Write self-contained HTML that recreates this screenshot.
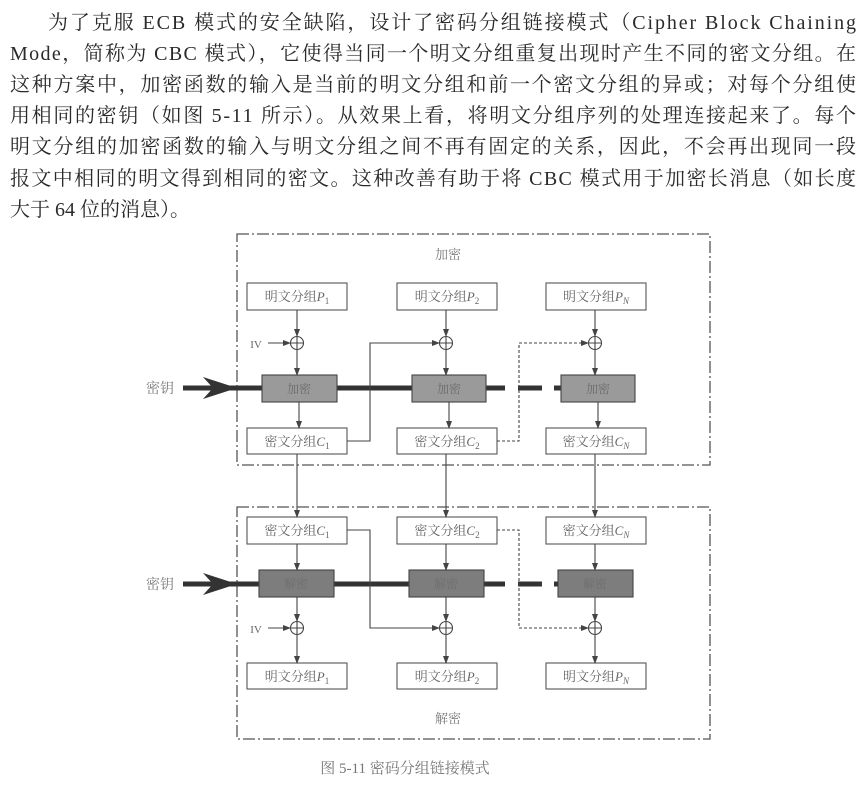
<!DOCTYPE html>
<html><head><meta charset="utf-8"><style>
html,body{margin:0;padding:0;background:#fff;}
svg{display:block;}
</style></head><body>
<svg width="866" height="791" viewBox="0 0 866 791" xmlns="http://www.w3.org/2000/svg" font-family="'Liberation Serif','Noto Serif CJK SC',serif">
<defs>
<marker id="ar" markerWidth="8" markerHeight="6" refX="7" refY="3" orient="auto" markerUnits="userSpaceOnUse">
<path d="M0,0 L8,3 L0,6 z" fill="#444"/></marker>
</defs>
<g fill="#2a2a2a" font-size="20">
<text x="48" y="29" textLength="808" lengthAdjust="spacing">为了克服 ECB 模式的安全缺陷，设计了密码分组链接模式（Cipher Block Chaining</text>
<text x="10" y="60" textLength="846" lengthAdjust="spacing">Mode，简称为 CBC 模式），它使得当同一个明文分组重复出现时产生不同的密文分组。在</text>
<text x="10" y="91" textLength="846" lengthAdjust="spacing">这种方案中，加密函数的输入是当前的明文分组和前一个密文分组的异或；对每个分组使</text>
<text x="10" y="122" textLength="846" lengthAdjust="spacing">用相同的密钥（如图 5-11 所示）。从效果上看，将明文分组序列的处理连接起来了。每个</text>
<text x="10" y="153" textLength="846" lengthAdjust="spacing">明文分组的加密函数的输入与明文分组之间不再有固定的关系，因此，不会再出现同一段</text>
<text x="10" y="185" textLength="846" lengthAdjust="spacing">报文中相同的明文得到相同的密文。这种改善有助于将 CBC 模式用于加密长消息（如长度</text>
<text x="10" y="216">大于 64 位的消息）。</text>
</g>

<g fill="none" stroke="#555" stroke-width="1.3" stroke-dasharray="12,3,2,3">
<rect x="237" y="234" width="473" height="231"/>
<rect x="237" y="507" width="473" height="232"/>
</g>
<g font-size="13" fill="#777" text-anchor="middle">
<text x="448" y="259">加密</text>
<text x="448" y="723">解密</text>
<text x="405" y="773" font-size="15">图 5-11  密码分组链接模式</text>
<text x="160" y="393" font-size="14">密钥</text>
<text x="160" y="589" font-size="14">密钥</text>
</g>

<!-- key lines -->
<g stroke="#333" stroke-width="5">
<line x1="183" y1="388" x2="505" y2="388"/><line x1="518" y1="388" x2="542" y2="388"/><line x1="554" y1="388" x2="562" y2="388"/>
<line x1="183" y1="584" x2="505" y2="584"/><line x1="518" y1="584" x2="542" y2="584"/><line x1="554" y1="584" x2="562" y2="584"/>
</g>
<path d="M203,377 L237,388 L203,399 L213,388 z" fill="#333"/>
<path d="M203,573 L237,584 L203,595 L213,584 z" fill="#333"/>

<g stroke="#555" stroke-width="1.1" fill="#fff">
<!-- enc plain boxes -->
<rect x="247" y="283" width="100" height="27"/><rect x="397" y="283" width="100" height="27"/><rect x="546" y="283" width="100" height="27"/>
<rect x="247" y="428" width="100" height="26"/><rect x="397" y="428" width="100" height="26"/><rect x="546" y="428" width="100" height="26"/>
<rect x="247" y="517" width="100" height="27"/><rect x="397" y="517" width="100" height="27"/><rect x="546" y="517" width="100" height="27"/>
<rect x="247" y="663" width="100" height="26"/><rect x="397" y="663" width="100" height="26"/><rect x="546" y="663" width="100" height="26"/>
</g>
<g stroke="#444" stroke-width="1.1" fill="#9a9a9a">
<rect x="262" y="375" width="75" height="27"/><rect x="412" y="375" width="74" height="27"/><rect x="561" y="375" width="74" height="27"/>
</g>
<g stroke="#444" stroke-width="1.1" fill="#7d7d7d">
<rect x="259" y="570" width="75" height="27"/><rect x="409" y="570" width="75" height="27"/><rect x="558" y="570" width="75" height="27"/>
</g>
<g font-size="12" fill="#6a6a6a" text-anchor="middle">
<text x="299" y="393">加密</text><text x="449" y="393">加密</text><text x="598" y="393">加密</text>
<text x="296" y="588" fill="#6e6e6e">解密</text><text x="446" y="588" fill="#6e6e6e">解密</text><text x="595" y="588" fill="#6e6e6e">解密</text>
</g>
<g font-size="13" fill="#666" text-anchor="middle">
<text x="297" y="301">明文分组<tspan font-style="italic">P</tspan><tspan font-size="9" dy="3">1</tspan></text>
<text x="447" y="301">明文分组<tspan font-style="italic">P</tspan><tspan font-size="9" dy="3">2</tspan></text>
<text x="596" y="301">明文分组<tspan font-style="italic">P</tspan><tspan font-size="9" dy="3" font-style="italic">N</tspan></text>
<text x="297" y="446">密文分组<tspan font-style="italic">C</tspan><tspan font-size="9" dy="3">1</tspan></text>
<text x="447" y="446">密文分组<tspan font-style="italic">C</tspan><tspan font-size="9" dy="3">2</tspan></text>
<text x="596" y="446">密文分组<tspan font-style="italic">C</tspan><tspan font-size="9" dy="3" font-style="italic">N</tspan></text>
<text x="297" y="535">密文分组<tspan font-style="italic">C</tspan><tspan font-size="9" dy="3">1</tspan></text>
<text x="447" y="535">密文分组<tspan font-style="italic">C</tspan><tspan font-size="9" dy="3">2</tspan></text>
<text x="596" y="535">密文分组<tspan font-style="italic">C</tspan><tspan font-size="9" dy="3" font-style="italic">N</tspan></text>
<text x="297" y="681">明文分组<tspan font-style="italic">P</tspan><tspan font-size="9" dy="3">1</tspan></text>
<text x="447" y="681">明文分组<tspan font-style="italic">P</tspan><tspan font-size="9" dy="3">2</tspan></text>
<text x="596" y="681">明文分组<tspan font-style="italic">P</tspan><tspan font-size="9" dy="3" font-style="italic">N</tspan></text>
<text x="256" y="348" font-size="11">IV</text>
<text x="256" y="633" font-size="11">IV</text>
</g>

<g stroke="#444" stroke-width="1.1" fill="none" marker-end="url(#ar)">
<!-- encryption verticals -->
<line x1="297" y1="310" x2="297" y2="336"/><line x1="446" y1="310" x2="446" y2="336"/><line x1="595" y1="310" x2="595" y2="336"/>
<line x1="297" y1="350" x2="297" y2="375"/><line x1="446" y1="350" x2="446" y2="375"/><line x1="595" y1="350" x2="595" y2="375"/>
<line x1="299" y1="402" x2="299" y2="428"/><line x1="449" y1="402" x2="449" y2="428"/><line x1="598" y1="402" x2="598" y2="428"/>
<line x1="268" y1="343" x2="290" y2="343"/>
<polyline points="347,441 370,441 370,343 439,343"/>
<polyline points="497,441 519,441 519,343 588,343" stroke-dasharray="3,2"/>
<!-- connections -->
<line x1="297" y1="454" x2="297" y2="517"/><line x1="446" y1="454" x2="446" y2="517"/><line x1="595" y1="454" x2="595" y2="517"/>
<!-- decryption -->
<line x1="297" y1="544" x2="297" y2="570"/><line x1="446" y1="544" x2="446" y2="570"/><line x1="595" y1="544" x2="595" y2="570"/>
<line x1="297" y1="597" x2="297" y2="621"/><line x1="446" y1="597" x2="446" y2="621"/><line x1="595" y1="597" x2="595" y2="621"/>
<line x1="297" y1="635" x2="297" y2="663"/><line x1="446" y1="635" x2="446" y2="663"/><line x1="595" y1="635" x2="595" y2="663"/>
<line x1="268" y1="628" x2="290" y2="628"/>
<polyline points="347,530 370,530 370,628 439,628"/>
<polyline points="497,530 519,530 519,628 588,628" stroke-dasharray="3,2"/>
</g>
<g stroke="#444" stroke-width="1.1" fill="#fff">
<circle cx="297" cy="343" r="6.5"/><circle cx="446" cy="343" r="6.5"/><circle cx="595" cy="343" r="6.5"/>
<circle cx="297" cy="628" r="6.5"/><circle cx="446" cy="628" r="6.5"/><circle cx="595" cy="628" r="6.5"/>
</g>
<g stroke="#444" stroke-width="1.1">
<path d="M290.5,343h13M297,336.5v13M439.5,343h13M446,336.5v13M588.5,343h13M595,336.5v13"/>
<path d="M290.5,628h13M297,621.5v13M439.5,628h13M446,621.5v13M588.5,628h13M595,621.5v13"/>
</g>
</svg>
</body></html>
